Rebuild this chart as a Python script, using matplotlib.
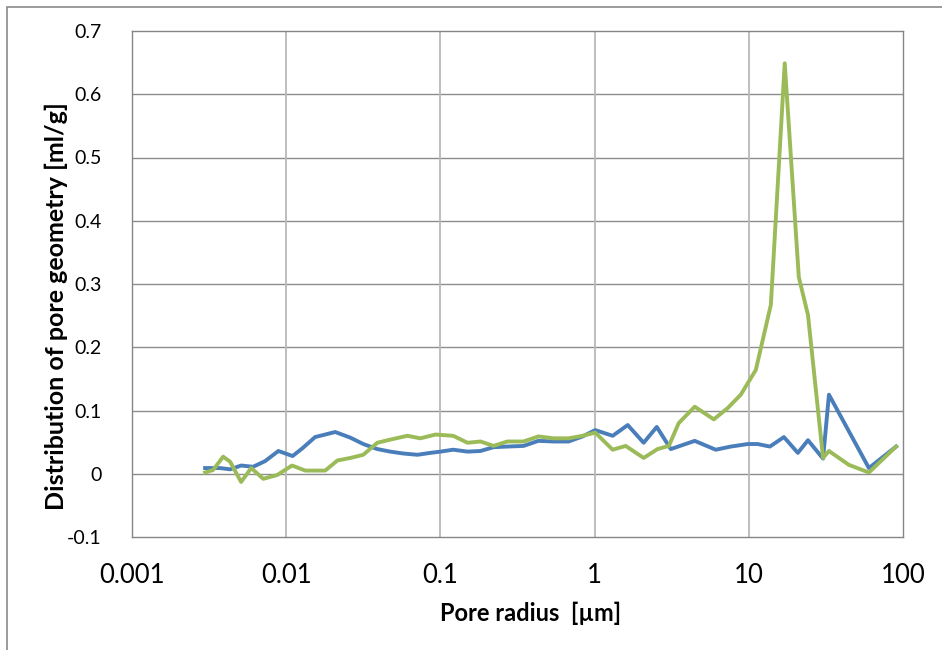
import matplotlib
matplotlib.use("Agg")
import matplotlib.pyplot as plt
from matplotlib.patches import Rectangle
from matplotlib.ticker import FixedLocator, NullLocator

plt.rcParams['font.family'] = ['Lato', 'DejaVu Sans']

# Blue series: pore radius [µm] and distribution [ml/g]
blue_r = [0.00298, 0.00372, 0.00433, 0.0051, 0.0061, 0.0073, 0.0089, 0.0110, 0.0127,
          0.0154, 0.0208, 0.0261, 0.0316, 0.039, 0.0473, 0.0575, 0.071, 0.0861, 0.1,
          0.121, 0.150, 0.182, 0.221, 0.272, 0.346, 0.432, 0.542, 0.678, 0.836, 1.01,
          1.31, 1.64, 2.08, 2.53, 3.12, 4.46, 6.1, 7.65, 9.86, 11.4, 13.7, 16.9, 20.8,
          24.2, 30.3, 33.1, 60.1, 90.2]
blue_v = [0.009, 0.009, 0.007, 0.013, 0.011, 0.020, 0.036, 0.028, 0.040,
          0.058, 0.066, 0.057, 0.047, 0.039, 0.035, 0.032, 0.030, 0.033, 0.035,
          0.038, 0.035, 0.036, 0.042, 0.043, 0.044, 0.052, 0.051, 0.051, 0.059, 0.069,
          0.060, 0.077, 0.049, 0.074, 0.039, 0.052, 0.038, 0.043, 0.047, 0.047, 0.043,
          0.058, 0.033, 0.053, 0.024, 0.125, 0.009, 0.043]

# Green series
green_r = [0.00298, 0.00336, 0.0039, 0.00433, 0.0051, 0.00593, 0.0071, 0.00875, 0.0109,
           0.0133, 0.0179, 0.0215, 0.0261, 0.0316, 0.039, 0.0473, 0.0611, 0.0741, 0.0929,
           0.121, 0.150, 0.182, 0.221, 0.272, 0.346, 0.432, 0.542, 0.678, 0.836, 1.01,
           1.31, 1.59, 2.08, 2.56, 3.03, 3.51, 4.46, 5.93, 7.31, 8.87, 11.1, 13.9, 17.1,
           21.1, 24.2, 30.3, 33.1, 44.6, 60.1, 90.2]
green_v = [0.002, 0.006, 0.027, 0.019, -0.013, 0.009, -0.008, -0.002, 0.013,
           0.005, 0.005, 0.021, 0.025, 0.030, 0.049, 0.054, 0.060, 0.056, 0.062,
           0.060, 0.049, 0.051, 0.044, 0.051, 0.051, 0.059, 0.056, 0.056, 0.060, 0.065,
           0.038, 0.044, 0.025, 0.039, 0.044, 0.080, 0.106, 0.086, 0.104, 0.125, 0.164,
           0.267, 0.649, 0.311, 0.251, 0.025, 0.036, 0.014, 0.002, 0.043]

x_ticks = [0.001, 0.01, 0.1, 1, 10, 100]
x_tick_labels = ['0.001', '0.01', '0.1', '1', '10', '100']
y_ticks = [-0.1, 0, 0.1, 0.2, 0.3, 0.4, 0.5, 0.6, 0.7]
y_tick_labels = ['-0.1', '0', '0.1', '0.2', '0.3', '0.4', '0.5', '0.6', '0.7']

W, H = 942, 650
fig = plt.figure(figsize=(W / 100, H / 100), dpi=100)
fig.patch.set_facecolor('white')

# outer chart border
fig.add_artist(Rectangle((7 / W, -0.01), 1.1, 1 - 7 / H + 0.01, transform=fig.transFigure,
                         fill=False, edgecolor='#8a8a8a', linewidth=1.2))

ax = fig.add_axes([132 / W, (H - 537) / H, (903 - 132) / W, (537 - 31) / H])
ax.set_xscale('log')
ax.set_xlim(0.001, 100)
ax.set_ylim(-0.1, 0.7)

ax.xaxis.set_major_locator(FixedLocator(x_ticks))
ax.xaxis.set_minor_locator(NullLocator())
ax.set_xticklabels(x_tick_labels)
ax.set_yticks(y_ticks)
ax.set_yticklabels(y_tick_labels)

for v in y_ticks[1:-1]:
    ax.axhline(v, color='#8c8c8c', linewidth=1.0, zorder=0)
for v in x_ticks[1:-1]:
    ax.axvline(v, color='#b9b9b9', linewidth=1.3, zorder=0)

for s in ax.spines.values():
    s.set_color('#868686')
    s.set_linewidth(1.0)

ax.tick_params(axis='both', length=0)
ax.tick_params(axis='x', labelsize=18.5, pad=19)
ax.tick_params(axis='y', labelsize=14, pad=22)

ax.plot(blue_r, blue_v, color='#4a7ebb', linewidth=2.8, solid_joinstyle='round')
ax.plot(green_r, green_v, color='#9bbb59', linewidth=2.8, solid_joinstyle='round')

fig.text(531 / W, 1 - 613 / H, 'Pore radius  [µm]', fontsize=17, fontweight='bold',
         ha='center', va='center')
fig.text(56 / W, 1 - 306 / H, 'Distribution of pore geometry [ml/g]', fontsize=18,
         fontweight='bold', rotation=90, ha='center', va='center')

fig.savefig('out.png', dpi=100)
